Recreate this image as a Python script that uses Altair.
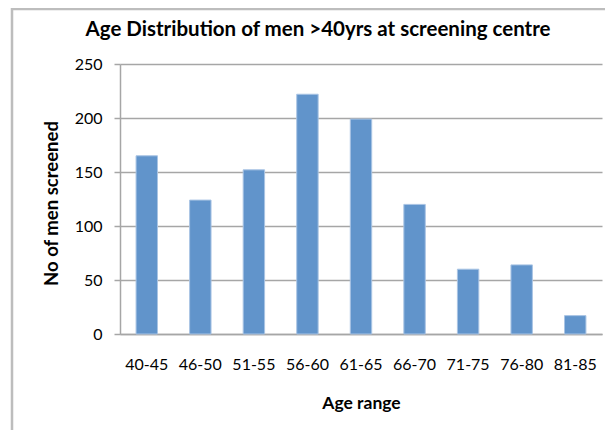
import altair as alt
import pandas as pd

categories = ["40-45", "46-50", "51-55", "56-60", "61-65", "66-70", "71-75", "76-80", "81-85"]
counts = [165, 124, 152, 222, 199, 120, 60, 64, 17]
y_ticks = [0, 50, 100, 150, 200, 250]

df = pd.DataFrame({"age": categories, "count": counts})

FONT = "Lato"
GRID = "#A6A6A6"

bars = alt.Chart(df).mark_bar(
    color="#6194CB", stroke="#A9C4E4", strokeWidth=1
).encode(
    x=alt.X(
        "age:N",
        sort=categories,
        scale=alt.Scale(paddingInner=0.6, paddingOuter=0.3),
        axis=alt.Axis(
            title="Age range",
            labelAngle=0,
            labelFontSize=16,
            labelFont=FONT,
            labelColor="#000000",
            labelPadding=22,
            ticks=False,
            tickSize=0,
            domainColor=GRID,
            domainWidth=1.5,
            titleFont=FONT,
            titleFontSize=17.5,
            titleFontWeight="bold",
            titleColor="#000000",
            titleBaseline="alphabetic",
            titleY=74,
        ),
    ),
    y=alt.Y(
        "count:Q",
        scale=alt.Scale(domain=[0, 250], nice=False),
        axis=alt.Axis(
            title="No of men screened",
            values=y_ticks,
            labelFontSize=16,
            labelFont=FONT,
            labelColor="#000000",
            labelPadding=12,
            tickSize=6,
            tickColor=GRID,
            tickWidth=1.5,
            domainColor=GRID,
            domainWidth=1.5,
            grid=True,
            gridColor=GRID,
            gridWidth=1.5,
            titleFont=FONT,
            titleFontSize=18.5,
            titleFontWeight="bold",
            titleColor="#000000",
            titleBaseline="middle",
            titleX=-69,
            titleY=139,
        ),
    ),
)

border = alt.Chart(pd.DataFrame({"b": [0]})).mark_rect(
    fill=None, stroke="#BDBDBD", strokeWidth=2.5
).encode(
    x=alt.value(-108), x2=alt.value(700), y=alt.value(-55), y2=alt.value(500)
)

chart = alt.layer(border, bars).properties(
    width=482,
    height=270,
    autosize=alt.AutoSizeParams(type="none"),
    padding={"left": 112, "top": 56, "right": 3, "bottom": 96},
    title=alt.TitleParams(
        "Age Distribution of men >40yrs at screening centre",
        font=FONT,
        fontSize=20.5,
        fontWeight="bold",
        color="#000000",
        anchor="middle",
        dx=-43,
        dy=49,
        baseline="alphabetic",
        offset=0,
    ),
).configure_view(stroke=None)

chart.save("out.html", embed_options={"renderer": "svg", "actions": False})
